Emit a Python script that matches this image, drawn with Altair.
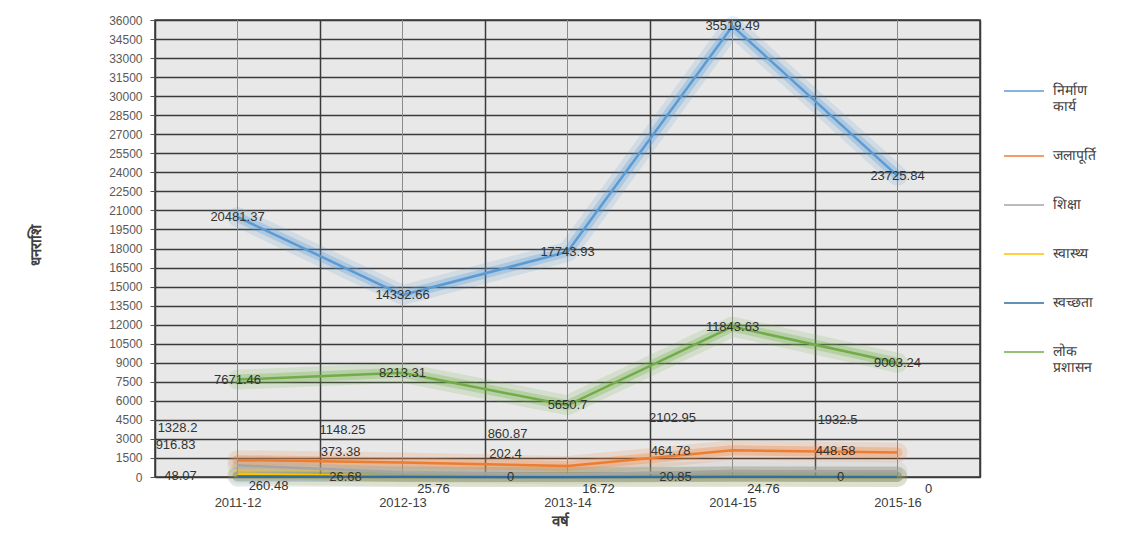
import altair as alt
import pandas as pd

years = ["2011-12", "2012-13", "2013-14", "2014-15", "2015-16"]
series_names = ["निर्माण कार्य", "जलापूर्ति", "शिक्षा", "स्वास्थ्य", "स्वच्छता", "लोक प्रशासन"]
nirman = [20481.37, 14332.66, 17743.93, 35519.49, 23725.84]
jalapurti = [1328.2, 1148.25, 860.87, 2102.95, 1932.5]
shiksha = [916.83, 373.38, 202.4, 464.78, 448.58]
swasthya = [260.48, 25.76, 16.72, 24.76, 0]
swachhata = [48.07, 26.68, 0, 20.85, 0]
lok = [7671.46, 8213.31, 5650.7, 11843.63, 9003.24]
y_ticks = list(range(0, 36001, 1500))
colors = ["#5B9BD5", "#ED7D31", "#A5A5A5", "#FFC000", "#2F6E9E", "#70AD47"]

all_series = [nirman, jalapurti, shiksha, swasthya, swachhata, lok]


def fmt(v):
    return ("%.2f" % v).rstrip("0").rstrip(".")


rows = []
for name, vals in zip(series_names, all_series):
    for yr, v in zip(years, vals):
        rows.append({"year": yr, "series": name, "value": v, "label": fmt(v)})
df = pd.DataFrame(rows)

x_enc = alt.X("year:N", sort=years, scale=alt.Scale(paddingInner=0, paddingOuter=0),
              axis=alt.Axis(title="वर्ष", labelFontSize=13, labelColor="#404040",
                            labelFont="Liberation Sans", labelAngle=0, labelPadding=19,
                            labelAlign="center", labelOverlap=False,
                            tickBand="extent", grid=True, gridColor="#3a3a3a", gridWidth=1.5,
                            ticks=False, domain=False,
                            titleFontSize=15, titleColor="#404040", titleFontWeight="bold",
                            titleY=36, titleX=405))
y_enc = alt.Y("value:Q", scale=alt.Scale(domain=[0, 36000], nice=False),
              axis=alt.Axis(title="धनराशि", values=y_ticks, format="d", labelOverlap=False,
                            labelFontSize=12, labelColor="#595959", labelFont="Liberation Sans",
                            labelPadding=8, tickSize=5, tickColor="#555",
                            grid=True, gridColor="#3a3a3a", gridWidth=1.5, domain=False,
                            titleFontSize=15, titleColor="#404040", titleFontWeight="bold",
                            titleX=-120, titleY=225, titleBaseline="middle", titleAlign="center"))
color_scale = alt.Scale(domain=series_names, range=colors)

base = alt.Chart(df)

center_rules = base.mark_rule(color="#8a8a8a", strokeWidth=1).encode(x=x_enc)

glow1 = base.mark_line(strokeWidth=20, opacity=0.16, strokeCap="round", strokeJoin="round").encode(
    x=x_enc, y=y_enc, color=alt.Color("series:N", scale=color_scale, legend=None))
glow2 = base.mark_line(strokeWidth=10, opacity=0.3, strokeCap="round", strokeJoin="round").encode(
    x=x_enc, y=y_enc, color=alt.Color("series:N", scale=color_scale, legend=None))
main = base.mark_line(strokeWidth=2.5).encode(
    x=x_enc, y=y_enc,
    color=alt.Color("series:N", scale=color_scale, sort=series_names,
                    legend=alt.Legend(title=None, orient="none", legendX=848, legendY=50,
                                      symbolType="stroke", symbolSize=1600,
                                      symbolStrokeWidth=1.5, labelFontSize=14,
                                      labelColor="#404040",
                                      labelExpr="split(datum.label, ' ')",
                                      rowPadding=21, labelOffset=8)))

offsets = {
    "निर्माण कार्य": (0, 0),
    "लोक प्रशासन": (0, 0),
    "जलापूर्ति": (-60, -32),
    "शिक्षा": (-62, -20),
    "स्वास्थ्य": (31, 12),
    "स्वच्छता": (-57, 0),
}
text_layers = []
for name in series_names:
    dx, dy = offsets[name]
    text_layers.append(
        base.transform_filter(alt.datum.series == name).mark_text(
            dx=dx, dy=dy, fontSize=13, color="#333333", font="Liberation Sans"
        ).encode(x=x_enc, y=y_enc, text="label:N")
    )

chart = alt.layer(center_rules, glow1, glow2, main, *text_layers).resolve_scale(
    color="independent"
).properties(
    width=825, height=457,
    autosize=alt.AutoSizeParams(type="none"),
    padding={"left": 147, "top": 12, "right": 137, "bottom": 58},
).configure_view(fill="#e8e8e8", stroke="#333333", strokeWidth=1.5)

chart.save("out.html", embed_options={"renderer": "svg", "actions": False})
